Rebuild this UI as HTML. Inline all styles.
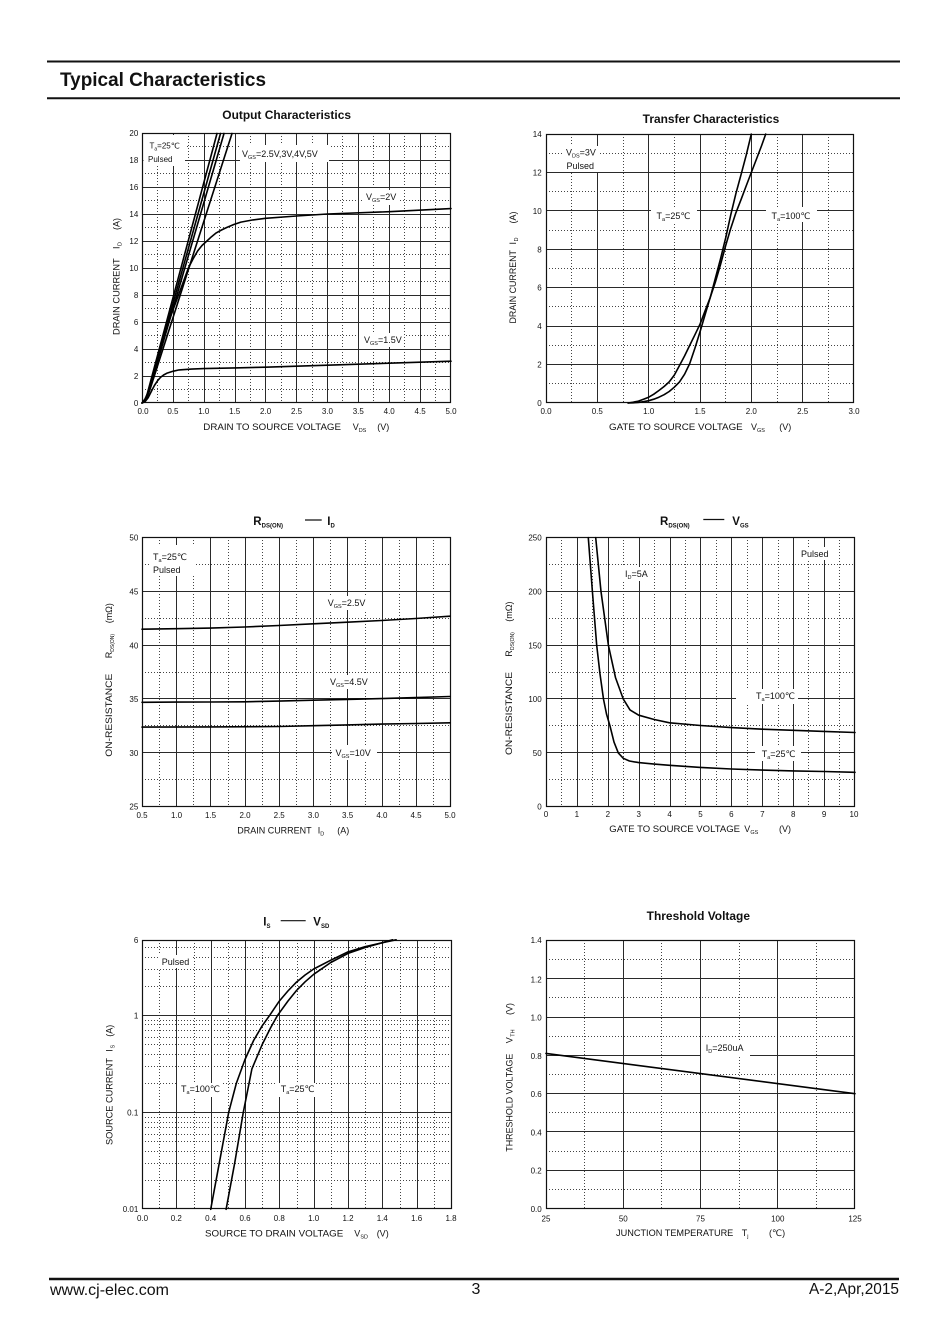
<!DOCTYPE html>
<html>
<head>
<meta charset="utf-8">
<style>
html,body{margin:0;padding:0;background:#fff;}
svg{display:block;}
text{font-family:"Liberation Sans","DejaVu Sans","Noto Sans CJK SC",sans-serif;fill:#111;}
.s{stroke:#2a2a2a;stroke-width:1;fill:none;}
.d{stroke:#444;stroke-width:1;fill:none;stroke-dasharray:1 2;}
.f{stroke:#111;stroke-width:1.2;fill:none;}
.c{stroke:#000;stroke-width:1.6;fill:none;stroke-linejoin:round;stroke-linecap:round;}
.t{font-size:8px;}
.yl{font-size:8px;text-anchor:end;}
.xl{font-size:8px;text-anchor:middle;}
.ax{font-size:9px;}
.lb{font-size:9px;}
.tt{font-size:11.5px;font-weight:bold;}
</style>
</head>
<body>
<svg width="950" height="1344" viewBox="0 0 950 1344" xmlns="http://www.w3.org/2000/svg">
<rect x="0" y="0" width="950" height="1344" fill="#fff"/>

<!-- Header -->
<line x1="47" y1="61.5" x2="900" y2="61.5" stroke="#111" stroke-width="2"/>
<line x1="47" y1="98.3" x2="900" y2="98.3" stroke="#111" stroke-width="2"/>
<text x="60" y="86" style="font-size:19px;font-weight:bold;" textLength="206" lengthAdjust="spacingAndGlyphs">Typical Characteristics</text>

<!-- Footer -->
<line x1="49" y1="1279" x2="899" y2="1279" stroke="#111" stroke-width="2.4"/>
<text x="50" y="1295" style="font-size:16px;" textLength="119" lengthAdjust="spacingAndGlyphs">www.cj-elec.com</text>
<text x="476" y="1294" style="font-size:16px;text-anchor:middle;">3</text>
<text x="809" y="1294" style="font-size:16px;" textLength="90" lengthAdjust="spacingAndGlyphs">A-2,Apr,2015</text>

<!-- ================= Chart 1: Output Characteristics ================= -->
<text x="222.3" y="119" class="tt" textLength="128.7" lengthAdjust="spacingAndGlyphs">Output Characteristics</text>
<path class="d" d="M157.5,133V403M188.5,133V403M219.5,133V403M250.5,133V403M281.5,133V403M312.5,133V403M342.5,133V403M373.5,133V403M404.5,133V403M435.5,133V403M142,389.5H451M142,362.5H451M142,335.5H451M142,308.5H451M142,281.5H451M142,254.5H451M142,227.5H451M142,200.5H451M142,173.5H451M142,146.5H451"/>
<path class="s" d="M173.5,133V403M204.5,133V403M235.5,133V403M265.5,133V403M296.5,133V403M327.5,133V403M358.5,133V403M389.5,133V403M420.5,133V403M142,376.5H451M142,349.5H451M142,322.5H451M142,295.5H451M142,268.5H451M142,241.5H451M142,214.5H451M142,187.5H451M142,160.5H451"/>
<rect class="f" x="142.5" y="133.5" width="308" height="269"/>
<!-- label boxes -->
<rect x="143.5" y="135" width="41.5" height="31" fill="#fff"/>
<rect x="240" y="145" width="89" height="17" fill="#fff"/>
<rect x="364" y="190" width="35" height="15" fill="#fff"/>
<rect x="361" y="333" width="43" height="14" fill="#fff"/>
<text x="149.5" y="148.5" class="t">T<tspan font-size="5" dy="2">a</tspan><tspan dy="-2">=25℃</tspan></text>
<text x="148" y="162" class="t">Pulsed</text>
<text x="242" y="157" class="lb">V<tspan font-size="5.5" dy="2">GS</tspan><tspan dy="-2">=2.5V,3V,4V,5V</tspan></text>
<text x="366" y="200" class="lb">V<tspan font-size="5.5" dy="2">GS</tspan><tspan dy="-2">=2V</tspan></text>
<text x="364" y="343" class="lb">V<tspan font-size="5.5" dy="2">GS</tspan><tspan dy="-2">=1.5V</tspan></text>
<!-- curves -->
<polyline class="c" points="142,403 145.1,401.6 148.2,397.6 151.3,391.5 154.4,385.5 157.5,380.8 160.5,377.4 163.6,375 166.7,373.3 172.9,371.3 179.1,369.9 191.5,369.1 203.8,368.6 234.7,367.9 265.6,367.2 327.4,365.2 389.2,363.2 451,361.2"/>
<polyline class="c" points="142,403 145,399 148.2,392.2 151.3,381 154.4,369.3 160.5,346.3 168.6,322 178.5,295 188.4,268 193,259 197.6,251 202,245.5 206.9,241 211.5,236.7 216.2,232.9 221.5,230 226.7,227.5 233.8,224.5 240.9,222.1 253,219.9 265.6,218.3 296.5,216 327.4,214 389.2,211.7 451,208.6"/>
<path class="c" d="M142,403Q145.5,401 148,391L217,133.5"/>
<path class="c" d="M142,403Q145.5,401 148.5,391L220.5,133.5"/>
<path class="c" d="M142,403Q145.5,401 149,391L224,133.5"/>
<path class="c" d="M142,403Q146,401 149.5,391L232,133.5"/>
<!-- ticks -->
<text class="yl" x="138.3" y="406">0</text>
<text class="yl" x="138.3" y="379">2</text>
<text class="yl" x="138.3" y="352">4</text>
<text class="yl" x="138.3" y="325">6</text>
<text class="yl" x="138.3" y="298">8</text>
<text class="yl" x="138.3" y="271">10</text>
<text class="yl" x="138.3" y="244">12</text>
<text class="yl" x="138.3" y="217">14</text>
<text class="yl" x="138.3" y="190">16</text>
<text class="yl" x="138.3" y="163">18</text>
<text class="yl" x="138.3" y="136">20</text>
<text class="xl" x="143" y="414">0.0</text>
<text class="xl" x="172.9" y="414">0.5</text>
<text class="xl" x="203.8" y="414">1.0</text>
<text class="xl" x="234.7" y="414">1.5</text>
<text class="xl" x="265.6" y="414">2.0</text>
<text class="xl" x="296.5" y="414">2.5</text>
<text class="xl" x="327.4" y="414">3.0</text>
<text class="xl" x="358.3" y="414">3.5</text>
<text class="xl" x="389.2" y="414">4.0</text>
<text class="xl" x="420.1" y="414">4.5</text>
<text class="xl" x="451" y="414">5.0</text>
<text class="ax" x="203.3" y="430" textLength="137.7" lengthAdjust="spacingAndGlyphs">DRAIN TO SOURCE VOLTAGE</text>
<text class="ax" x="352.7" y="430">V<tspan font-size="5.5" dy="2">DS</tspan></text>
<text class="ax" x="377.3" y="430">(V)</text>
<g transform="translate(119.5,335) rotate(-90)">
<text class="ax" x="0" y="0" textLength="76.7" lengthAdjust="spacingAndGlyphs">DRAIN CURRENT</text>
<text class="ax" x="86" y="0">I</text>
<text x="89" y="2" font-size="5.5">D</text>
<text class="ax" x="105" y="0">(A)</text>
</g>

<!-- ================= Chart 2: Transfer Characteristics ================= -->
<text x="642.7" y="123" class="tt" textLength="136.6" lengthAdjust="spacingAndGlyphs">Transfer Characteristics</text>
<path class="d" d="M571.5,134V403M623.5,134V403M674.5,134V403M725.5,134V403M777.5,134V403M828.5,134V403M546,383.5H854M546,345.5H854M546,306.5H854M546,268.5H854M546,230.5H854M546,191.5H854M546,153.5H854"/>
<path class="s" d="M597.5,134V403M648.5,134V403M700.5,134V403M751.5,134V403M802.5,134V403M546,364.5H854M546,326.5H854M546,287.5H854M546,249.5H854M546,210.5H854M546,172.5H854"/>
<rect class="f" x="546.5" y="134.5" width="307" height="268"/>
<rect x="562" y="146" width="38" height="26" fill="#fff"/>
<rect x="651" y="207" width="46" height="15" fill="#fff"/>
<rect x="766" y="207" width="51" height="15" fill="#fff"/>
<text x="566" y="155.5" class="lb">V<tspan font-size="5.5" dy="2">DS</tspan><tspan dy="-2">=3V</tspan></text>
<text x="566.5" y="169" class="lb">Pulsed</text>
<text x="656.5" y="219" class="lb">T<tspan font-size="5.5" dy="2">a</tspan><tspan dy="-2">=25℃</tspan></text>
<text x="771.5" y="219" class="lb">T<tspan font-size="5.5" dy="2">a</tspan><tspan dy="-2">=100℃</tspan></text>
<polyline class="c" points="628.1,403 633.3,402.8 638.4,402.4 643.5,401.7 648.7,400.7 653.8,399.2 658.9,397.2 664.1,394.7 669.2,391.5 674.3,387.2 679.5,381.9 684.6,374.2 689.7,363.6 694.9,348.2 700,331.9 705.1,314.6 710.3,297.3 715.4,278.1 720.5,258.9 725.7,237.8 730.8,214.7 735.9,193.6 741.1,174.4 746.2,155.2 751.3,134.1"/>
<polyline class="c" points="628.1,403 633.3,402.2 638.4,401.1 643.5,399.3 648.7,397.2 653.8,394.2 658.9,390.5 664.1,386.5 669.2,381.9 674.3,375.1 679.5,365.5 684.6,355.9 689.7,345.4 694.9,334.8 700,324.2 705.1,310.8 710.3,297.3 715.4,282 720.5,264.7 725.7,245.5 730.8,228.2 735.9,212.8 741.1,199.4 746.2,185.9 751.3,172.5 756.5,159 761.6,145.6 765.7,134.1"/>
<text class="yl" x="541.7" y="406">0</text>
<text class="yl" x="541.7" y="367.6">2</text>
<text class="yl" x="541.7" y="329.2">4</text>
<text class="yl" x="541.7" y="290.7">6</text>
<text class="yl" x="541.7" y="252.3">8</text>
<text class="yl" x="541.7" y="213.9">10</text>
<text class="yl" x="541.7" y="175.5">12</text>
<text class="yl" x="541.7" y="137">14</text>
<text class="xl" x="546" y="414">0.0</text>
<text class="xl" x="597.3" y="414">0.5</text>
<text class="xl" x="648.7" y="414">1.0</text>
<text class="xl" x="700" y="414">1.5</text>
<text class="xl" x="751.3" y="414">2.0</text>
<text class="xl" x="802.7" y="414">2.5</text>
<text class="xl" x="854" y="414">3.0</text>
<text class="ax" x="609" y="430" textLength="133.7" lengthAdjust="spacingAndGlyphs">GATE TO SOURCE VOLTAGE</text>
<text class="ax" x="751" y="430">V<tspan font-size="5.5" dy="2">GS</tspan></text>
<text class="ax" x="779.3" y="430">(V)</text>
<g transform="translate(516,323.5) rotate(-90)">
<text class="ax" x="0" y="0" textLength="73.5" lengthAdjust="spacingAndGlyphs">DRAIN CURRENT</text>
<text class="ax" x="79" y="0">I</text>
<text x="82" y="2" font-size="5.5">D</text>
<text class="ax" x="100" y="0">(A)</text>
</g>

<!-- ================= Chart 3: RDS(ON) - ID ================= -->
<text x="253.3" y="525" class="tt">R<tspan font-size="6" dy="2.5">DS(ON)</tspan></text>
<line x1="305" y1="520" x2="321.7" y2="520" stroke="#111" stroke-width="1.2"/>
<text x="327.3" y="525" class="tt">I<tspan font-size="6" dy="2.5">D</tspan></text>
<path class="d" d="M159.5,537V807M193.5,537V807M228.5,537V807M262.5,537V807M296.5,537V807M330.5,537V807M365.5,537V807M399.5,537V807M433.5,537V807M142,564.5H451M142,618.5H451M142,672.5H451M142,725.5H451M142,779.5H451"/>
<path class="s" d="M176.5,537V807M210.5,537V807M245.5,537V807M279.5,537V807M313.5,537V807M347.5,537V807M382.5,537V807M416.5,537V807M142,591.5H451M142,645.5H451M142,698.5H451M142,752.5H451"/>
<rect class="f" x="142.5" y="537.5" width="308" height="269"/>
<rect x="149" y="545" width="47" height="31" fill="#fff"/>
<rect x="325" y="596" width="43" height="14" fill="#fff"/>
<rect x="327" y="675" width="45" height="14" fill="#fff"/>
<rect x="332" y="745" width="45" height="15" fill="#fff"/>
<text x="153" y="560" class="lb">T<tspan font-size="5.5" dy="2">a</tspan><tspan dy="-2">=25℃</tspan></text>
<text x="153" y="573" class="lb">Pulsed</text>
<text x="327.7" y="606" class="lb">V<tspan font-size="5.5" dy="2">GS</tspan><tspan dy="-2">=2.5V</tspan></text>
<text x="330" y="685" class="lb">V<tspan font-size="5.5" dy="2">GS</tspan><tspan dy="-2">=4.5V</tspan></text>
<text x="335.5" y="756" class="lb">V<tspan font-size="5.5" dy="2">GS</tspan><tspan dy="-2">=10V</tspan></text>
<polyline class="c" points="142,629.2 176.2,628.7 210.4,628.1 244.7,627 279,625.5 313.1,623.8 347.3,622.2 381.5,620.5 415.8,618.5 450,616.2"/>
<polyline class="c" points="142,702.3 176.2,702.1 210.4,702 244.7,701.8 279,701.1 313.1,700.2 347.3,699.4 381.5,698.6 415.8,697.6 450,696.5"/>
<polyline class="c" points="142,727.1 210.4,726.9 279,726.5 313.1,725.7 347.3,724.9 381.5,724.1 415.8,723.5 450,722.8"/>
<text class="yl" x="138.3" y="809.7">25</text>
<text class="yl" x="138.3" y="755.9">30</text>
<text class="yl" x="138.3" y="702.1">35</text>
<text class="yl" x="138.3" y="648.3">40</text>
<text class="yl" x="138.3" y="594.5">45</text>
<text class="yl" x="138.3" y="540.7">50</text>
<text class="xl" x="142" y="818">0.5</text>
<text class="xl" x="176.5" y="818">1.0</text>
<text class="xl" x="210.5" y="818">1.5</text>
<text class="xl" x="245" y="818">2.0</text>
<text class="xl" x="279.2" y="818">2.5</text>
<text class="xl" x="313.4" y="818">3.0</text>
<text class="xl" x="347.6" y="818">3.5</text>
<text class="xl" x="381.9" y="818">4.0</text>
<text class="xl" x="416" y="818">4.5</text>
<text class="xl" x="450" y="818">5.0</text>
<text class="ax" x="237.3" y="833.3" textLength="74.3" lengthAdjust="spacingAndGlyphs">DRAIN CURRENT</text>
<text class="ax" x="317.7" y="833.3">I<tspan font-size="5.5" dy="2">D</tspan></text>
<text class="ax" x="337.3" y="833.3">(A)</text>
<g transform="translate(112,756.7) rotate(-90)">
<text class="ax" x="0" y="0" textLength="83" lengthAdjust="spacingAndGlyphs">ON-RESISTANCE</text>
<text class="ax" x="98.4" y="0">R</text>
<text x="105" y="2" font-size="5">DS(ON)</text>
<text class="ax" x="133.4" y="0">(mΩ)</text>
</g>

<!-- ================= Chart 4: RDS(ON) - VGS ================= -->
<text x="660" y="525" class="tt">R<tspan font-size="6" dy="2.5">DS(ON)</tspan></text>
<line x1="703.3" y1="519.5" x2="724.3" y2="519.5" stroke="#111" stroke-width="1.2"/>
<text x="732.3" y="525" class="tt">V<tspan font-size="6" dy="2.5">GS</tspan></text>
<path class="d" d="M561.5,537V807M592.5,537V807M623.5,537V807M654.5,537V807M685.5,537V807M716.5,537V807M747.5,537V807M778.5,537V807M808.5,537V807M839.5,537V807M546,564.5H855M546,618.5H855M546,672.5H855M546,725.5H855M546,779.5H855"/>
<path class="s" d="M577.5,537V807M608.5,537V807M639.5,537V807M670.5,537V807M700.5,537V807M731.5,537V807M762.5,537V807M793.5,537V807M824.5,537V807M546,591.5H855M546,645.5H855M546,698.5H855M546,752.5H855"/>
<rect class="f" x="546.5" y="537.5" width="308" height="269"/>
<rect x="798" y="547" width="33" height="13" fill="#fff"/>
<rect x="622" y="567" width="30" height="14" fill="#fff"/>
<rect x="736" y="689" width="62" height="15" fill="#fff"/>
<rect x="755" y="746" width="46" height="15" fill="#fff"/>
<text x="801" y="557" class="lb">Pulsed</text>
<text x="625" y="577" class="lb">I<tspan font-size="5.5" dy="2">D</tspan><tspan dy="-2">=5A</tspan></text>
<text x="756" y="699" class="lb">T<tspan font-size="5.5" dy="2">a</tspan><tspan dy="-2">=100℃</tspan></text>
<text x="761.7" y="757" class="lb">T<tspan font-size="5.5" dy="2">a</tspan><tspan dy="-2">=25℃</tspan></text>
<polyline class="c" points="588.3,537.7 592.4,591.5 596.7,645.3 600,674 603.5,699.1 606.5,714 610,726 614,742.1 618.3,752.9 623.3,758.3 629.4,761 638.7,762.6 654.2,764.1 669.6,765.3 700.5,767.4 731.4,769 762.3,770.1 793.2,770.9 824.1,771.5 855,772.3"/>
<polyline class="c" points="595.7,537.7 601,591.5 608.4,645.3 615.5,677.6 623.3,699.1 630,709.9 638.7,715.2 654.2,719.5 669.6,722.8 700.5,725.5 731.4,727.6 762.3,729.2 793.2,730.3 824.1,731.4 855,732.5"/>
<text class="yl" x="541.7" y="809.7">0</text>
<text class="yl" x="541.7" y="755.9">50</text>
<text class="yl" x="541.7" y="702.1">100</text>
<text class="yl" x="541.7" y="648.3">150</text>
<text class="yl" x="541.7" y="594.5">200</text>
<text class="yl" x="541.7" y="540.7">250</text>
<text class="xl" x="546" y="817">0</text>
<text class="xl" x="576.9" y="817">1</text>
<text class="xl" x="607.8" y="817">2</text>
<text class="xl" x="638.7" y="817">3</text>
<text class="xl" x="669.6" y="817">4</text>
<text class="xl" x="700.5" y="817">5</text>
<text class="xl" x="731.4" y="817">6</text>
<text class="xl" x="762.3" y="817">7</text>
<text class="xl" x="793.2" y="817">8</text>
<text class="xl" x="824.1" y="817">9</text>
<text class="xl" x="854" y="817">10</text>
<text class="ax" x="609.3" y="832" textLength="130.7" lengthAdjust="spacingAndGlyphs">GATE TO SOURCE VOLTAGE</text>
<text class="ax" x="744.3" y="832">V<tspan font-size="5.5" dy="2">GS</tspan></text>
<text class="ax" x="779" y="832">(V)</text>
<g transform="translate(512,755) rotate(-90)">
<text class="ax" x="0" y="0" textLength="83" lengthAdjust="spacingAndGlyphs">ON-RESISTANCE</text>
<text class="ax" x="98.3" y="0">R</text>
<text x="105" y="2" font-size="5">DS(ON)</text>
<text class="ax" x="133.3" y="0">(mΩ)</text>
</g>

<!-- ================= Chart 5: IS - VSD ================= -->
<text x="263.3" y="925.5" class="tt">I<tspan font-size="6" dy="2.5">S</tspan></text>
<line x1="280.7" y1="920.7" x2="305.7" y2="920.7" stroke="#111" stroke-width="1.2"/>
<text x="313.3" y="925.5" class="tt">V<tspan font-size="6" dy="2.5">SD</tspan></text>
<path class="d" d="M159.5,940V1209M194.5,940V1209M228.5,940V1209M262.5,940V1209M297.5,940V1209M331.5,940V1209M365.5,940V1209M400.5,940V1209M434.5,940V1209M142,1180.5H452M142,1163.5H452M142,1151.5H452M142,1141.5H452M142,1134.5H452M142,1127.5H452M142,1122.5H452M142,1117.5H452M142,1083.5H452M142,1066.5H452M142,1054.5H452M142,1044.5H452M142,1037.5H452M142,1030.5H452M142,1024.5H452M142,1020.5H452M142,986.5H452M142,969.5H452M142,957.5H452M142,947.5H452"/>
<path class="s" d="M176.5,940V1209M211.5,940V1209M245.5,940V1209M279.5,940V1209M314.5,940V1209M348.5,940V1209M382.5,940V1209M417.5,940V1209M142,1112.5H452M142,1015.5H452"/>
<rect class="f" x="142.5" y="940.5" width="309" height="268"/>
<rect x="159" y="955" width="34" height="13" fill="#fff"/>
<rect x="178" y="1083" width="44" height="14" fill="#fff"/>
<rect x="277" y="1083" width="38" height="14" fill="#fff"/>
<text x="161.7" y="965" class="lb">Pulsed</text>
<text x="181" y="1092" class="lb">T<tspan font-size="5.5" dy="2">a</tspan><tspan dy="-2">=100℃</tspan></text>
<text x="280.7" y="1092" class="lb">T<tspan font-size="5.5" dy="2">a</tspan><tspan dy="-2">=25℃</tspan></text>
<polyline class="c" points="210.7,1209.3 219.3,1163 228.7,1112.3 236.4,1083.1 245,1059.5 253.6,1040.5 262.2,1025.8 269.7,1015.3 279.3,1001.1 287.9,991 296.5,982.1 305.1,975 313.7,969 330.8,960.2 348,951.9 365.2,946.7 382.3,942.7 392.6,939.8"/>
<polyline class="c" points="226.1,1209.3 234.7,1163 243.3,1112.3 251.9,1068.9 262.2,1044.5 270.8,1027.4 277.6,1015.3 287.9,1001.1 296.5,990.5 305.1,981.8 313.7,974.3 330.8,962.5 348,953.4 365.2,947.5 382.3,942.7 396.1,939.8"/>
<text class="yl" x="138.3" y="1212">0.01</text>
<text class="yl" x="138.3" y="1115.3">0.1</text>
<text class="yl" x="138.3" y="1018.3">1</text>
<text class="yl" x="138.3" y="943">6</text>
<text class="xl" x="142.5" y="1221">0.0</text>
<text class="xl" x="176.3" y="1221">0.2</text>
<text class="xl" x="210.7" y="1221">0.4</text>
<text class="xl" x="245" y="1221">0.6</text>
<text class="xl" x="279.3" y="1221">0.8</text>
<text class="xl" x="313.7" y="1221">1.0</text>
<text class="xl" x="348" y="1221">1.2</text>
<text class="xl" x="382.3" y="1221">1.4</text>
<text class="xl" x="416.7" y="1221">1.6</text>
<text class="xl" x="451" y="1221">1.8</text>
<text class="ax" x="205" y="1236.7" textLength="138.3" lengthAdjust="spacingAndGlyphs">SOURCE TO DRAIN VOLTAGE</text>
<text class="ax" x="354.3" y="1236.7">V<tspan font-size="5.5" dy="2">SD</tspan></text>
<text class="ax" x="376.7" y="1236.7">(V)</text>
<g transform="translate(112.5,1145) rotate(-90)">
<text class="ax" x="0" y="0" textLength="87" lengthAdjust="spacingAndGlyphs">SOURCE CURRENT</text>
<text class="ax" x="93.3" y="0">I</text>
<text x="96.5" y="2" font-size="5.5">S</text>
<text class="ax" x="108.3" y="0">(A)</text>
</g>

<!-- ================= Chart 6: Threshold Voltage ================= -->
<text x="646.7" y="920" class="tt" textLength="103.3" lengthAdjust="spacingAndGlyphs">Threshold Voltage</text>
<path class="d" d="M584.5,940V1209M661.5,940V1209M739.5,940V1209M816.5,940V1209M546,1189.5H855M546,1151.5H855M546,1112.5H855M546,1074.5H855M546,1036.5H855M546,997.5H855M546,959.5H855"/>
<path class="s" d="M623.5,940V1209M700.5,940V1209M777.5,940V1209M546,1170.5H855M546,1131.5H855M546,1093.5H855M546,1055.5H855M546,1017.5H855M546,978.5H855"/>
<rect class="f" x="546.5" y="940.5" width="308" height="268"/>
<rect x="701" y="1041" width="49" height="16" fill="#fff"/>
<text x="705.7" y="1051" class="lb">I<tspan font-size="5.5" dy="2">D</tspan><tspan dy="-2">=250uA</tspan></text>
<line class="c" x1="546" y1="1053.4" x2="855" y2="1093.7"/>
<text class="yl" x="541.7" y="1212">0.0</text>
<text class="yl" x="541.7" y="1173.7">0.2</text>
<text class="yl" x="541.7" y="1135.4">0.4</text>
<text class="yl" x="541.7" y="1097.1">0.6</text>
<text class="yl" x="541.7" y="1058.9">0.8</text>
<text class="yl" x="541.7" y="1020.6">1.0</text>
<text class="yl" x="541.7" y="982.3">1.2</text>
<text class="yl" x="541.7" y="943">1.4</text>
<text class="xl" x="546" y="1221.5">25</text>
<text class="xl" x="623.3" y="1221.5">50</text>
<text class="xl" x="700.5" y="1221.5">75</text>
<text class="xl" x="777.8" y="1221.5">100</text>
<text class="xl" x="855" y="1221.5">125</text>
<text class="ax" x="616" y="1236" textLength="117.3" lengthAdjust="spacingAndGlyphs">JUNCTION TEMPERATURE</text>
<text class="ax" x="741.7" y="1236">T<tspan font-size="5.5" dy="2">j</tspan></text>
<text class="ax" x="769" y="1236">(℃)</text>
<g transform="translate(512.5,1151.7) rotate(-90)">
<text class="ax" x="0" y="0" textLength="98" lengthAdjust="spacingAndGlyphs">THRESHOLD VOLTAGE</text>
<text class="ax" x="108.4" y="0">V</text>
<text x="115" y="2" font-size="5.5">TH</text>
<text class="ax" x="136.7" y="0">(V)</text>
</g>
</svg>
</body>
</html>
